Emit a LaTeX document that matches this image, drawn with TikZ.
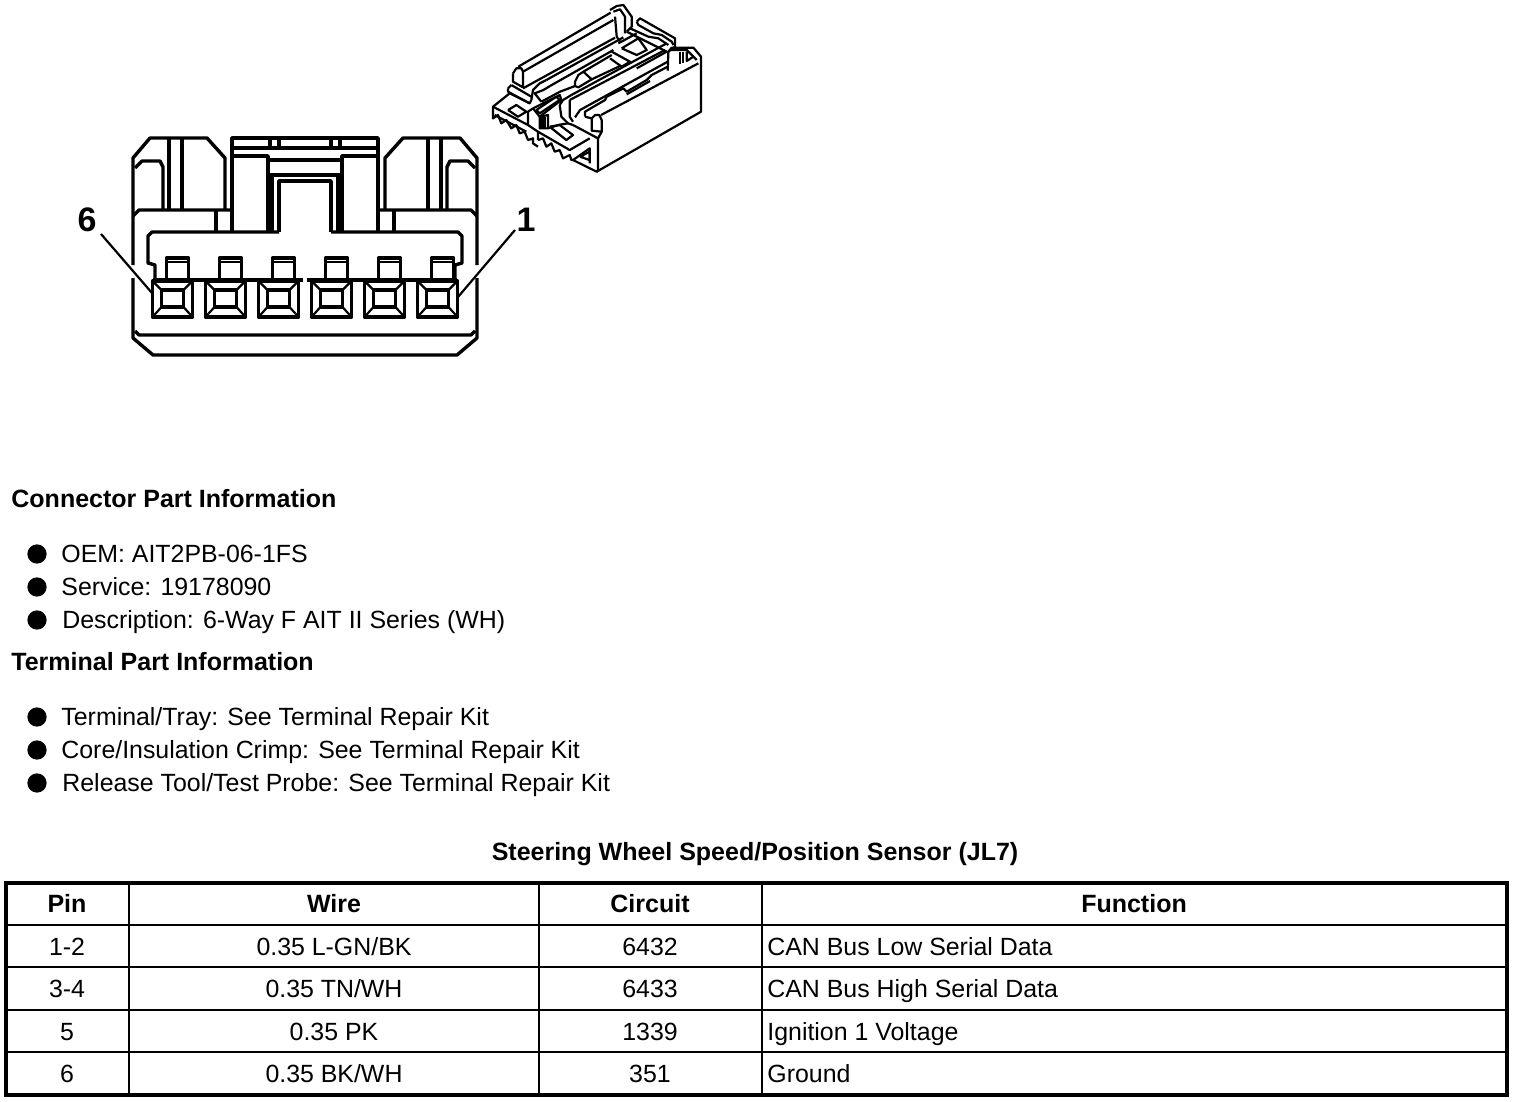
\documentclass[tikz,border=0pt]{standalone}
\usepackage{fontspec}
\setmainfont{Liberation Sans}
\tikzset{
    outline/.style={line width=1.7pt, line join=round},
    detail/.style={line width=1.1pt, line join=round},
    lead/.style={line width=1.1pt},
    callout/.style={font=\fontsize{17}{17}\selectfont\bfseries, inner sep=0pt},
    heading/.style={font=\fontsize{12.5}{12.5}\selectfont\bfseries, anchor=west, inner sep=0pt, text height=8.9pt, text depth=0pt},
    item/.style={font=\fontsize{12.45}{12.45}\selectfont, anchor=west, inner sep=0pt, text height=8.9pt, text depth=0pt},
    cell/.style={font=\fontsize{12.45}{12.45}\selectfont, inner sep=0pt, text height=8.9pt, text depth=0pt},
    headcell/.style={cell, font=\fontsize{12.5}{12.5}\selectfont\bfseries},
    bullet/.style={circle, fill=black, inner sep=3.4pt},
}
\begin{document}
\begin{tikzpicture}[x=0.5pt, y=-0.5pt]
\useasboundingbox (0, 0) rectangle (1520, 1102);
\foreach \side in {1, -1} {
\begin{scope}[shift={(305, 0)}, xscale=\side, outline]
        \draw (-172, 265) -- (-172, 158) -- (-155, 138) -- (-98, 138) -- (-80, 158) -- (-80, 210);
        \draw (-170, 168) -- (-163, 161) -- (-145, 161) -- (-142, 167) -- (-142, 210);
        \draw (-136, 138) -- (-136, 210);
        \draw (-123, 138) -- (-123, 210);
        \draw (-172, 216) -- (-166, 210) -- (-73, 210);
        \draw (-89, 210) -- (-89, 232);
        \draw (-73, 232) -- (-73, 138) -- (0, 138);
        \draw (-73, 148) -- (0, 148);
        \draw (-35, 138) -- (-35, 148);
        \draw (-26, 138) -- (-26, 148);
        \draw (-73, 156) -- (-37, 156) -- (-37, 232);
        \draw (-37, 160) -- (0, 160);
        \draw (-37, 175) -- (0, 175);
        \draw (-33, 175) -- (-33, 232);
        \draw (-26, 232) -- (-26, 181) -- (0, 181);
        \draw (-26, 232) -- (-153, 232) -- (-157, 236) -- (-157, 263) -- (-150, 265) -- (-150, 281);
        \draw (-152, 280) -- (-2, 280);
        \draw (-172, 278) -- (-172, 338) -- (-152, 355) -- (0, 355);
        \draw (-170, 331) -- (-166, 335) -- (0, 335);
\end{scope}
}
\foreach \i in {0, ..., 5} {
\begin{scope}[shift={(172.5 + 53 * \i, 0)}, outline]
        \draw (-20, 281) rectangle (20, 317);
        \draw (-11, 290) rectangle (11, 307);
        \draw[detail] (-20, 281) -- (-11, 290);
        \draw[detail] (20, 281) -- (11, 290);
        \draw[detail] (-20, 317) -- (-11, 307);
        \draw[detail] (20, 317) -- (11, 307);
        \draw (-6, 280) -- (-6, 258) -- (16, 258) -- (16, 280);
        \draw[detail] (-6, 262) -- (16, 262);
\end{scope}
}
\node[callout] (six) at (87, 220) {6};
\node[callout] (one) at (526, 220) {1};
\coordinate (sixstart) at (101, 234);
\coordinate (sixend) at (152, 293);
\coordinate (onestart) at (515, 230);
\coordinate (oneend) at (458, 297);
\draw[lead] (sixstart) -- (sixend);
\draw[lead] (onestart) -- (oneend);
\begin{scope}[shift={(480, 0)}, x=0.1667pt, y=-0.1667pt, detail]
        \draw (350, 515) -- (663, 335) -- (663, 170) -- (640, 143) -- (575, 143) -- (565, 155) -- (563, 212);
        \draw (572, 150) -- (620, 150) -- (650, 180);
        \draw (600, 155) -- (600, 192);
        \draw (608, 155) -- (608, 190);
        \draw (620, 155) -- (620, 183) -- (640, 170);
        \draw (363, 345) -- (655, 190);
        \draw (279, 375) -- (354, 415) -- (354, 510) -- (350, 515) -- (279, 480);
        \draw (335, 355) -- (345, 345) -- (358, 345) -- (365, 360) -- (365, 395) -- (354, 415);
        \draw (335, 355) -- (335, 392) -- (365, 395);
        \draw (315, 350) -- (335, 355);
        \draw (315, 350) -- (315, 335) -- (375, 300) -- (380, 290) -- (430, 265) -- (440, 275) -- (500, 240) -- (515, 225) -- (563, 200);
        \draw (440, 283) -- (510, 243);
        \draw (274, 285) -- (560, 130);
        \draw (269, 300) -- (555, 150);
        \draw (269, 300) -- (269, 350) -- (279, 365);
        \draw (285, 352) -- (300, 330) -- (563, 185);
        \draw (239, 315) -- (249, 300) -- (274, 285);
        \draw (239, 315) -- (244, 350) -- (264, 370);
        \draw (99, 220) -- (109, 205) -- (124, 205) -- (129, 215) -- (129, 262);
        \draw (99, 220) -- (99, 245) -- (129, 262);
        \draw (115, 200) -- (392, 38);
        \draw (129, 215) -- (400, 60);
        \draw (129, 265) -- (405, 113);
        \draw (390, 30) -- (410, 18) -- (430, 15) -- (455, 50) -- (455, 80) -- (440, 95);
        \draw (400, 35) -- (420, 28) -- (435, 50) -- (435, 100);
        \draw (405, 50) -- (410, 110) -- (420, 125);
        \draw (470, 65) -- (480, 55) -- (585, 115) -- (585, 140) -- (565, 155);
        \draw (470, 65) -- (475, 75) -- (520, 100) -- (545, 105) -- (575, 125) -- (580, 135);
        \draw (450, 85) -- (505, 110) -- (535, 115) -- (565, 135);
        \draw (440, 95) -- (560, 155) -- (470, 205);
        \draw (199, 240) -- (179, 250) -- (159, 270) -- (154, 300);
        \draw (199, 240) -- (430, 112);
        \draw (210, 258) -- (400, 150);
        \draw (210, 258) -- (190, 270) -- (164, 280) -- (184, 305);
        \draw (184, 305) -- (240, 275) -- (285, 258);
        \draw (285, 245) -- (295, 225) -- (310, 215) -- (335, 238) -- (295, 262) -- (285, 258) -- (285, 245);
        \draw (310, 215) -- (395, 165);
        \draw (335, 238) -- (420, 198);
        \draw (395, 155) -- (450, 185) -- (425, 200) -- (390, 175);
        \draw (425, 145) -- (475, 115) -- (500, 150) -- (470, 165) -- (425, 145);
        \draw (415, 130) -- (470, 100);
        \draw (94, 255) -- (154, 290);
        \draw (84, 265) -- (94, 255);
        \draw (84, 265) -- (84, 275) -- (149, 310) -- (154, 300);
        \draw (89, 280) -- (39, 320) -- (39, 355) -- (54, 345) -- (64, 370) -- (79, 360) -- (94, 385) -- (109, 375) -- (119, 400) -- (134, 395) -- (144, 420) -- (159, 415) -- (159, 430) -- (174, 440);
        \draw (39, 320) -- (144, 375) -- (144, 335) -- (159, 325);
        \draw (44, 345) -- (139, 395);
        \draw (89, 280) -- (149, 310);
        \draw (84, 330) -- (109, 315) -- (139, 335) -- (114, 350) -- (84, 330);
        \draw (159, 325) -- (239, 285) -- (244, 300) -- (179, 350) -- (159, 325);
        \draw (169, 330) -- (229, 290) -- (239, 300) -- (179, 340) -- (169, 330);
        \draw (179, 350) -- (179, 385) -- (204, 385) -- (204, 345) -- (179, 350);
        \fill (184, 350) rectangle (198, 385);
        \draw (144, 375) -- (174, 395) -- (174, 420);
        \draw (174, 395) -- (269, 450) -- (329, 415);
        \draw (204, 385) -- (234, 375) -- (264, 370) -- (279, 375);
        \draw (209, 380) -- (239, 375) -- (279, 405) -- (259, 420) -- (209, 380);
        \draw (174, 420) -- (189, 415) -- (199, 440) -- (214, 430) -- (224, 455) -- (239, 450) -- (249, 475) -- (269, 465) -- (274, 480) -- (279, 480);
        \draw (279, 480) -- (329, 445) -- (329, 490);
        \draw (300, 470) -- (329, 455) -- (329, 480) -- (300, 470);
\end{scope}
\node[heading] (connhead) at (11, 499) {Connector Part Information};
\node[heading] (termhead) at (11, 662) {Terminal Part Information};
\foreach \name/\y/\x/\txt in {oem/554/61/{OEM: AIT2PB-06-1FS}, service/587/61/{Service: 19178090}, descr/620/62/{Description: 6-Way F AIT II Series (WH)}, tray/717/61/{Terminal/Tray: See Terminal Repair Kit}, crimp/750/61/{Core/Insulation Crimp: See Terminal Repair Kit}, probe/783/62/{Release Tool/Test Probe: See Terminal Repair Kit}} {
        \node[bullet] (\name dot) at (37, \y) {};
        \node[item] (\name) at (\x, \y) {\txt};
}
\node[heading, anchor=center] (title) at (755, 852) {Steering Wheel Speed/Position Sensor (JL7)};
\draw[line width=2pt] (6, 883) rectangle (1507, 1095);
\foreach \y in {925, 967, 1010, 1052} {
        \draw[line width=1pt] (6, \y) -- (1507, \y);
}
\foreach \x in {129, 539, 762} {
        \draw[line width=1pt] (\x, 883) -- (\x, 1095);
}
\node[headcell] (pin) at (67, 904) {Pin};
\node[headcell] (wire) at (334, 904) {Wire};
\node[headcell] (circuit) at (650, 904) {Circuit};
\node[headcell] (function) at (1134, 904) {Function};
\foreach \n/\y/\p/\w/\c/\f in {a/947/1-2/0.35 L-GN\slash BK/6432/CAN Bus Low Serial Data, b/989/3-4/0.35 TN\slash WH/6433/CAN Bus High Serial Data, c/1032/5/0.35 PK/1339/Ignition 1 Voltage, d/1074/6/0.35 BK\slash WH/351/Ground} {
        \node[cell] (pin\n) at (67, \y) {\p};
        \node[cell] (wire\n) at (334, \y) {\w};
        \node[cell] (circuit\n) at (650, \y) {\c};
        \node[item] (function\n) at (767, \y) {\f};
}
\end{tikzpicture}
\end{document}
